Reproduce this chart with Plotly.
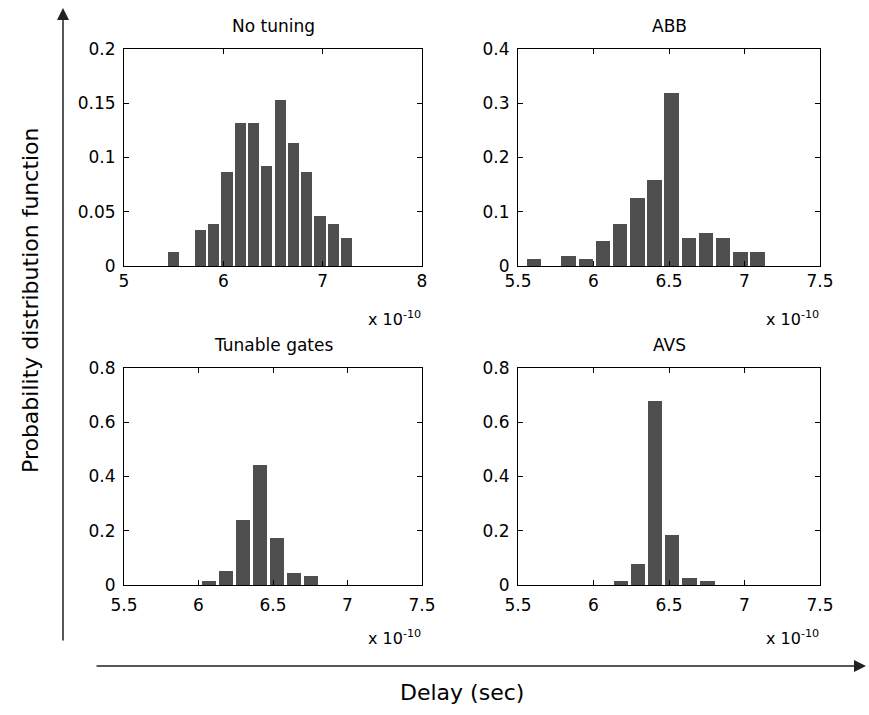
import plotly.graph_objects as go

# ---- data (delay in units of 1e-10 s, PDF values) ----
titles = ["No tuning", "ABB", "Tunable gates", "AVS"]

nt_delay = [5.500, 5.634, 5.768, 5.902, 6.036, 6.170, 6.304, 6.438, 6.572, 6.706, 6.840, 6.974, 7.108, 7.242]
nt_pdf = [0.0126, 0.0, 0.033, 0.039, 0.0865, 0.132, 0.132, 0.092, 0.1526, 0.113, 0.0865, 0.0465, 0.039, 0.0255]

abb_delay = [5.607, 5.721, 5.835, 5.949, 6.063, 6.176, 6.290, 6.404, 6.518, 6.632, 6.746, 6.859, 6.973, 7.087]
abb_pdf = [0.0123, 0.0, 0.0185, 0.0123, 0.0455, 0.078, 0.125, 0.158, 0.318, 0.0517, 0.060, 0.0517, 0.025, 0.025]

tg_delay = [6.068, 6.184, 6.297, 6.411, 6.525, 6.639, 6.753]
tg_pdf = [0.015, 0.051, 0.240, 0.441, 0.174, 0.043, 0.032]

avs_delay = [6.181, 6.296, 6.408, 6.521, 6.637, 6.753]
avs_pdf = [0.015, 0.079, 0.677, 0.186, 0.026, 0.015]

bin_widths = [0.134, 0.114, 0.114, 0.115]

x_ranges = [[5, 8], [5.5, 7.5], [5.5, 7.5], [5.5, 7.5]]
x_ticks = [[5, 6, 7, 8], [5.5, 6, 6.5, 7, 7.5], [5.5, 6, 6.5, 7, 7.5], [5.5, 6, 6.5, 7, 7.5]]
y_ranges = [[0, 0.2], [0, 0.4], [0, 0.8], [0, 0.8]]
y_ticks = [[0, 0.05, 0.1, 0.15, 0.2], [0, 0.1, 0.2, 0.3, 0.4], [0, 0.2, 0.4, 0.6, 0.8], [0, 0.2, 0.4, 0.6, 0.8]]

exponent_label = "x 10<sup>-10</sup>"
x_title = "Delay (sec)"
y_title = "Probability distribution function"

# ---- layout geometry (pixels) ----
W, H = 869, 715
FONT = "DejaVu Sans"
BAR_COLOR = "#4f4f4f"

px_boxes = [  # left, right, top, bottom
    (124, 422, 49, 266),
    (518, 820, 49, 266),
    (124, 422, 368, 585),
    (518, 820, 368, 585),
]

series = [(nt_delay, nt_pdf), (abb_delay, abb_pdf), (tg_delay, tg_pdf), (avs_delay, avs_pdf)]

fig = go.Figure()
annotations = []

for i, ((xs, ys), box) in enumerate(zip(series, px_boxes)):
    l, r, t, b = box
    n = "" if i == 0 else str(i + 1)
    fig.add_trace(go.Bar(
        x=xs, y=ys, width=[bin_widths[i] * 0.84] * len(xs),
        marker=dict(color=BAR_COLOR, line=dict(width=0)),
        xaxis="x" + n, yaxis="y" + n, showlegend=False, hoverinfo="x+y",
    ))
    standoff = 0 if i < 2 else 5
    axis_common = dict(
        showline=True, linecolor="black", linewidth=1, mirror="ticks",
        ticks="inside", ticklen=5, tickcolor="black", tickwidth=1,
        showgrid=False, zeroline=False, automargin=False,
        tickfont=dict(family=FONT, size=17, color="black"),
    )
    fig.layout["xaxis" + n] = dict(
        domain=[l / W, r / W], range=x_ranges[i], tickvals=x_ticks[i],
        anchor="y" + n, ticklabelstandoff=standoff, **axis_common,
    )
    fig.layout["yaxis" + n] = dict(
        domain=[1 - b / H, 1 - t / H], range=y_ranges[i], tickvals=y_ticks[i],
        anchor="x" + n, ticklabelstandoff=4, **axis_common,
    )
    # title
    annotations.append(dict(
        text=titles[i], xref="paper", yref="paper",
        x=(l + r) / 2 / W, y=1 - (t - 23) / H, xanchor="center", yanchor="middle",
        showarrow=False, font=dict(family=FONT, size=17, color="black"),
    ))
    # exponent
    annotations.append(dict(
        text=exponent_label, xref="paper", yref="paper",
        x=(r + 1) / W, y=1 - (b + 52) / H, xanchor="right", yanchor="middle",
        showarrow=False, font=dict(family=FONT, size=16, color="black"),
    ))

# big axis arrows
annotations.append(dict(
    text="", xref="paper", yref="paper", x=63 / W, y=1 - 8 / H,
    axref="pixel", ayref="pixel", ax=0, ay=634,
    showarrow=True, arrowhead=2, arrowsize=1.6, arrowwidth=1.5, arrowcolor="#222222",
))
annotations.append(dict(
    text="", xref="paper", yref="paper", x=866 / W, y=1 - 666 / H,
    axref="pixel", ayref="pixel", ax=-771, ay=0,
    showarrow=True, arrowhead=2, arrowsize=1.6, arrowwidth=1.5, arrowcolor="#222222",
))
annotations.append(dict(
    text=x_title, xref="paper", yref="paper", x=462 / W, y=1 - 692 / H,
    xanchor="center", yanchor="middle", showarrow=False,
    font=dict(family=FONT, size=22, color="black"),
))
annotations.append(dict(
    text=y_title, xref="paper", yref="paper", x=30 / W, y=1 - 300 / H,
    xanchor="center", yanchor="middle", showarrow=False, textangle=-90,
    font=dict(family=FONT, size=22, color="black"),
))

fig.update_layout(
    width=W, height=H, margin=dict(l=0, r=0, t=0, b=0, pad=0, autoexpand=False),
    paper_bgcolor="white", plot_bgcolor="white",
    bargap=0, annotations=annotations,
)

fig.write_html("out.html")
